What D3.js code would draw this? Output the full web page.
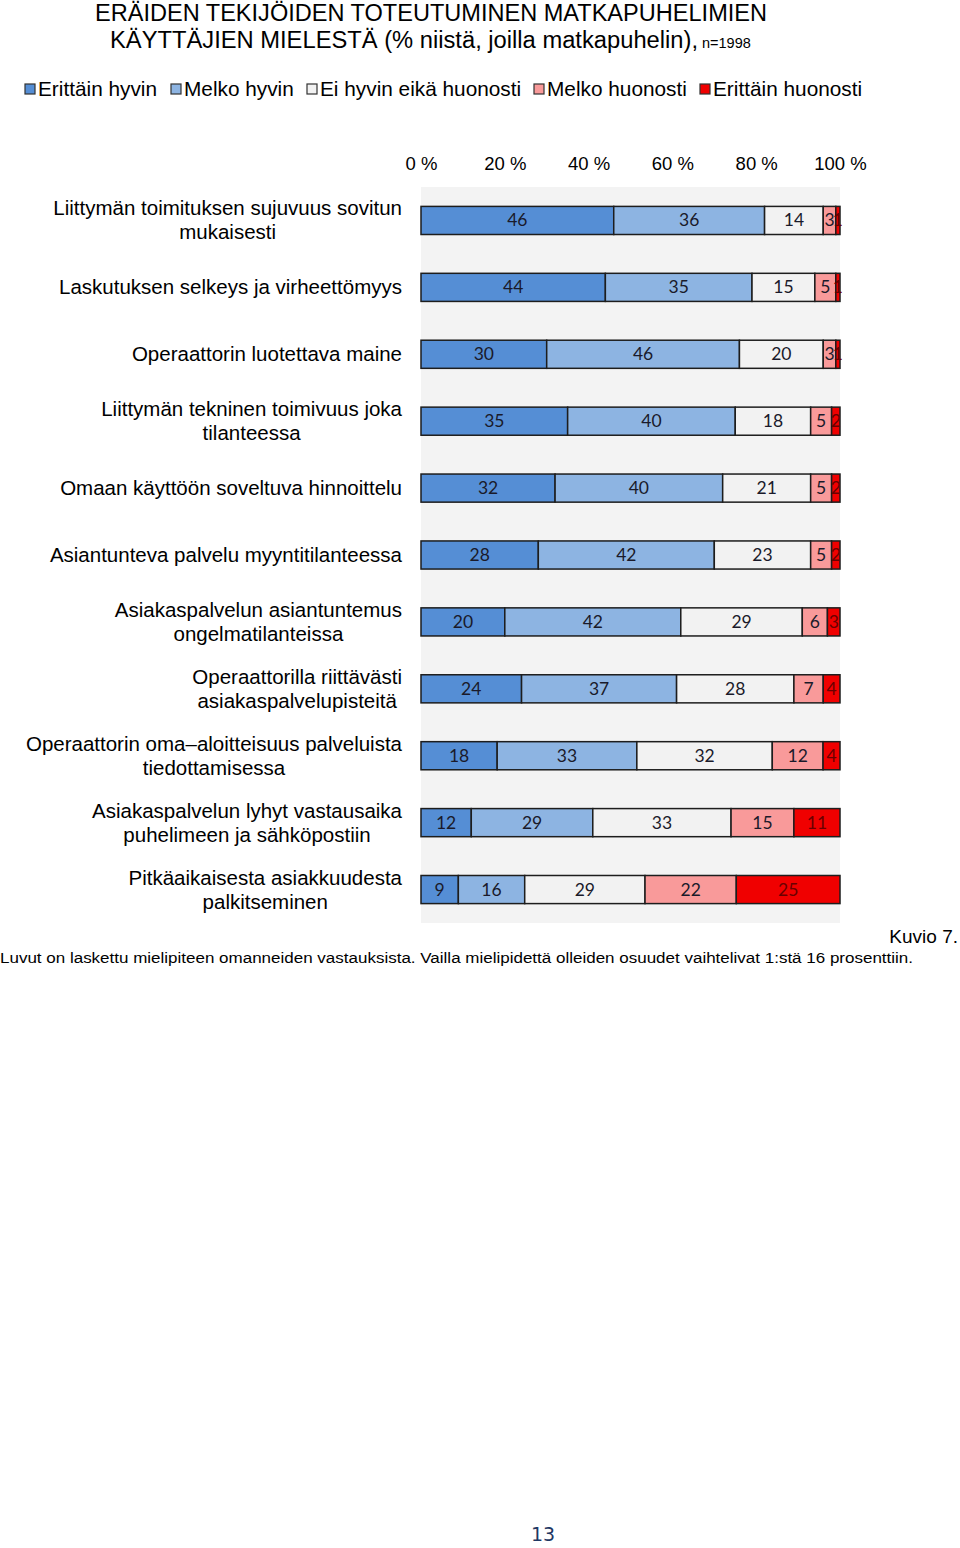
<!DOCTYPE html>
<html><head><meta charset="utf-8">
<script src="https://cdn.jsdelivr.net/npm/d3@7"></script>
<style>body{margin:0;background:#fff}svg{display:block}</style>
</head><body><svg id="c" width="960" height="1548"></svg>
<script>
const categories = [
  "Liittymän toimituksen sujuvuus sovitun\nmukaisesti",
  "Laskutuksen selkeys ja virheettömyys",
  "Operaattorin luotettava maine",
  "Liittymän tekninen toimivuus joka\ntilanteessa",
  "Omaan käyttöön soveltuva hinnoittelu",
  "Asiantunteva palvelu myyntitilanteessa",
  "Asiakaspalvelun asiantuntemus\nongelmatilanteissa",
  "Operaattorilla riittävästi\nasiakaspalvelupisteitä",
  "Operaattorin oma–aloitteisuus palveluista\ntiedottamisessa",
  "Asiakaspalvelun lyhyt vastausaika\npuhelimeen ja sähköpostiin",
  "Pitkäaikaisesta asiakkuudesta\npalkitseminen"
];
const seriesNames = ["Erittäin hyvin","Melko hyvin","Ei hyvin eikä huonosti","Melko huonosti","Erittäin huonosti"];
const erittainHyvin   = [46,44,30,35,32,28,20,24,18,12,9];
const melkoHyvin      = [36,35,46,40,40,42,42,37,33,29,16];
const eiHyvinEikaHuon = [14,15,20,18,21,23,29,28,32,33,29];
const melkoHuonosti   = [3,5,3,5,5,5,6,7,12,15,22];
const erittainHuon    = [1,1,1,2,2,2,3,4,4,11,25];
const tickLabels = ["0 %","20 %","40 %","60 %","80 %","100 %"];
const tickValues = [0,0.2,0.4,0.6,0.8,1];
const colors = ["#558ED5","#8DB4E2","#F2F2F2","#F99A9A","#F00000"];

const series = [erittainHyvin, melkoHyvin, eiHyvinEikaHuon, melkoHuonosti, erittainHuon];
const svg = d3.select("#c");

const x = d3.scaleLinear().domain([0,1]).range([421,840]);
const y = d3.scaleBand().domain(d3.range(categories.length)).range([187,923]).paddingInner(0.58).paddingOuter(0.29);

// title
const t = svg.append("text").attr("font-family","Liberation Sans, Arial, sans-serif").attr("fill","#000");
t.append("tspan").attr("x",431).attr("y",21).attr("text-anchor","middle").attr("font-size",23)
  .attr("textLength",672).attr("lengthAdjust","spacingAndGlyphs")
  .text("ERÄIDEN TEKIJÖIDEN TOTEUTUMINEN MATKAPUHELIMIEN");
const t2 = svg.append("text").attr("font-family","Liberation Sans, Arial, sans-serif").attr("fill","#000").attr("x",110).attr("y",48);
t2.append("tspan").attr("font-size",23).attr("textLength",588).attr("lengthAdjust","spacingAndGlyphs").text("KÄYTTÄJIEN MIELESTÄ (% niistä, joilla matkapuhelin),");
t2.append("tspan").attr("font-size",14.5).attr("dx",4).text("n=1998");

// legend
const legX = [24,170,306,533,699];
seriesNames.forEach((n,i)=>{
  svg.append("rect").attr("x",legX[i]+1).attr("y",84).attr("width",10).attr("height",10)
    .attr("fill",colors[i]).attr("stroke","#333").attr("stroke-width",1.2);
  svg.append("text").attr("x",legX[i]+14).attr("y",96).attr("font-family","Liberation Sans, Arial, sans-serif")
    .attr("font-size",20.8).attr("fill","#000").text(n);
});

// plot background
svg.append("rect").attr("x",x(0)).attr("y",187).attr("width",x(1)-x(0)).attr("height",736).attr("fill","#F3F3F3");

// axis
const axis = d3.axisTop(x).tickValues(tickValues).tickFormat((d,i)=>tickLabels[i]).tickSize(0).tickPadding(0);
const ag = svg.append("g").attr("transform","translate(0,170)").call(axis);
ag.select(".domain").remove();
ag.selectAll("text").attr("font-family","Liberation Sans, Arial, sans-serif").attr("font-size",18.5).attr("fill","#000").attr("dy",0);

// stacked normalized data
const rows = categories.map((c,i)=>{
  const vals = series.map(s=>s[i]);
  const tot = d3.sum(vals);
  let acc = 0;
  return vals.map((v,k)=>{ const seg={row:i,k,v,x0:acc/tot,x1:(acc+v)/tot}; acc+=v; return seg; });
});

const g = svg.append("g");
rows.forEach(segs=>{
  segs.forEach(s=>{
    g.append("rect").attr("x",x(s.x0)).attr("y",y(s.row)).attr("width",x(s.x1)-x(s.x0)).attr("height",y.bandwidth())
      .attr("fill",colors[s.k]).attr("stroke","#1d1d1d").attr("stroke-width",1.5);
  });
});
rows.forEach(segs=>{
  segs.forEach(s=>{
    g.append("text").attr("x",(x(s.x0)+x(s.x1))/2).attr("y",y(s.row)+y.bandwidth()/2+6)
      .attr("text-anchor","middle").attr("font-family","Lato, Carlito, sans-serif").attr("font-size",17.5)
      .attr("fill", s.k===4 ? "#6a0000" : "#1a1a2a").text(s.v);
  });
});

// category labels
categories.forEach((c,i)=>{
  const lines = c.split("\n");
  const cy = y(i)+y.bandwidth()/2;
  const tg = svg.append("text").attr("font-family","Liberation Sans, Arial, sans-serif").attr("font-size",20.5).attr("fill","#000");
  const n = lines.length;
  const spans = lines.map((l,j)=>tg.append("tspan").attr("y",cy+7+(j-(n-1)/2)*24).text(l));
  const maxW = d3.max(spans,s=>s.node().getComputedTextLength());
  const cx = 402 - maxW/2;
  spans.forEach(s=>s.attr("x",cx).attr("text-anchor","middle"));
});

// footer
svg.append("text").attr("x",958).attr("y",943).attr("text-anchor","end").attr("font-family","Liberation Sans, Arial, sans-serif")
  .attr("font-size",19).attr("fill","#000").text("Kuvio 7.");
svg.append("text").attr("x",0).attr("y",963).attr("font-family","Liberation Sans, Arial, sans-serif")
  .attr("font-size",15.5).attr("fill","#000").attr("textLength",913).attr("lengthAdjust","spacingAndGlyphs")
  .text("Luvut on laskettu mielipiteen omanneiden vastauksista. Vailla mielipidettä olleiden osuudet vaihtelivat 1:stä 16 prosenttiin.");
svg.append("text").attr("x",543).attr("y",1541).attr("text-anchor","middle").attr("font-family","DejaVu Sans, Verdana, sans-serif")
  .attr("font-size",19).attr("fill","#1F3864").text("13");
</script></body></html>
